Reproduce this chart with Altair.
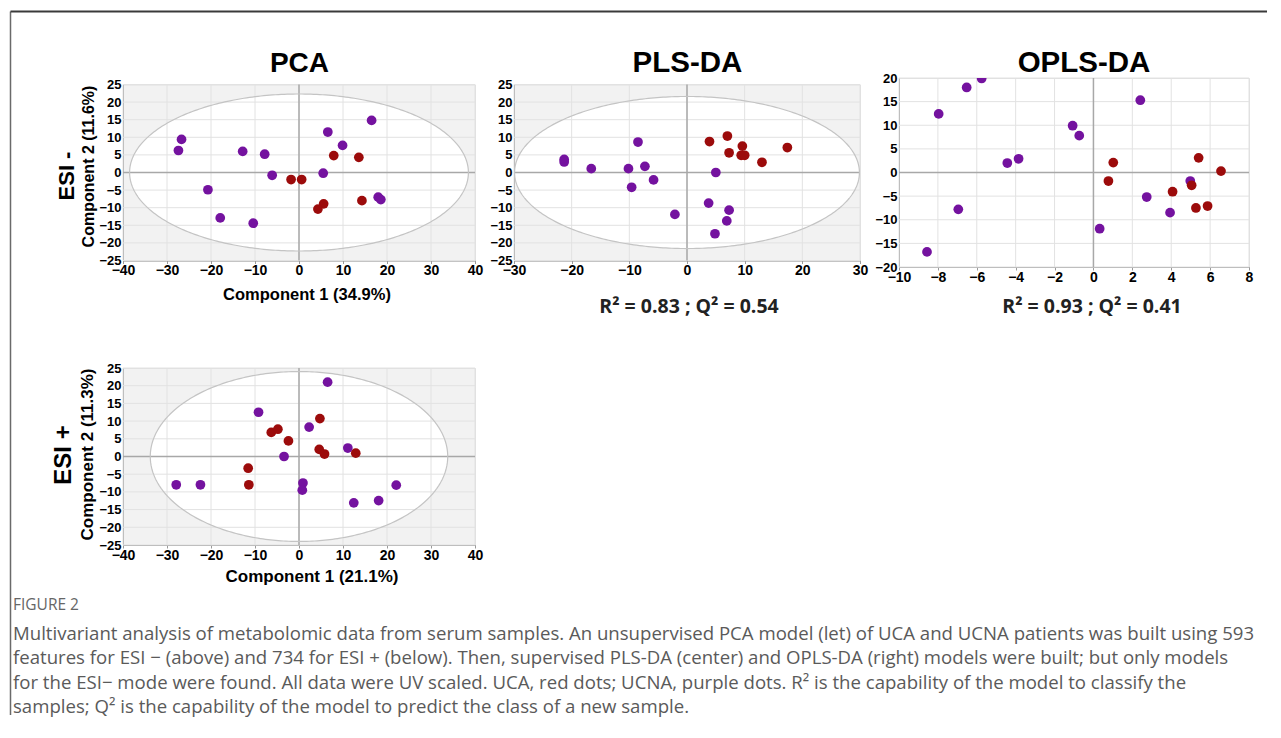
import altair as alt
import pandas as pd

PURPLE = "#74129f"
RED = "#9c0b0b"

# ---------------- data ----------------
# PCA, ESI-
pca_neg_ucna_x = [-26.7, -27.4, -12.8, -7.8, -6.1, -20.7, -17.9, -10.4, 6.55, 9.9, 16.5, 5.5, 18.0, 18.6]
pca_neg_ucna_y = [9.4, 6.25, 6.0, 5.2, -0.8, -4.9, -12.9, -14.4, 11.5, 7.7, 14.8, -0.2, -7.0, -7.7]
pca_neg_uca_x = [-1.8, 0.6, 7.9, 13.6, 14.3, 5.6, 4.3]
pca_neg_uca_y = [-2.0, -2.0, 4.8, 4.3, -8.0, -8.9, -10.4]
pca_neg_ellipse = (38.5, 22.3)

# PLS-DA, ESI-
plsda_ucna_x = [-21.3, -21.3, -16.6, -8.5, -10.15, -7.3, -5.8, -9.6, -2.1, 5.0, 3.75, 7.3, 6.9, 4.85]
plsda_ucna_y = [3.7, 3.0, 1.1, 8.65, 1.1, 1.75, -2.1, -4.2, -11.9, 0.0, -8.7, -10.7, -13.75, -17.4]
plsda_uca_x = [3.9, 7.0, 9.6, 7.3, 9.4, 10.0, 13.0, 17.4]
plsda_uca_y = [8.8, 10.35, 7.5, 5.6, 4.9, 4.9, 2.9, 7.1]
plsda_ellipse = (29.9, 21.6)

# OPLS-DA, ESI-
oplsda_ucna_x = [-8.56, -7.96, -6.52, -5.75, -6.95, -4.43, -3.85, -1.07, -0.73, 0.32, 2.41, 2.74, 3.94, 4.98]
oplsda_ucna_y = [-16.8, 12.4, 18.0, 19.9, -7.8, 2.0, 2.9, 9.9, 7.8, -11.9, 15.3, -5.2, -8.5, -1.8]
oplsda_uca_x = [0.77, 1.02, 4.07, 5.05, 5.41, 6.56, 5.27, 5.87]
oplsda_uca_y = [-1.8, 2.1, -4.06, -2.7, 3.1, 0.3, -7.5, -7.1]

# PCA, ESI+
pca_pos_ucna_x = [-27.9, -22.4, -9.2, -3.4, 2.3, 6.5, 0.9, 0.75, 11.1, 12.45, 18.1, 22.1]
pca_pos_ucna_y = [-8.0, -8.0, 12.5, 0.0, 8.3, 21.0, -7.5, -9.5, 2.4, -13.1, -12.45, -8.1]
pca_pos_uca_x = [-11.55, -11.4, -6.3, -4.8, -2.4, 4.75, 4.6, 5.8, 12.9]
pca_pos_uca_y = [-3.3, -8.0, 6.8, 7.7, 4.4, 10.7, 2.0, 0.7, 0.95]
pca_pos_ellipse = (33.8, 24.0)

# tick values
pca_x_ticks = [-40, -30, -20, -10, 0, 10, 20, 30, 40]
pca_y_ticks = [-25, -20, -15, -10, -5, 0, 5, 10, 15, 20, 25]
plsda_x_ticks = [-30, -20, -10, 0, 10, 20, 30]
plsda_y_ticks = [-25, -20, -15, -10, -5, 0, 5, 10, 15, 20, 25]
oplsda_x_ticks = [-10, -8, -6, -4, -2, 0, 2, 4, 6, 8]
oplsda_y_ticks = [-20, -15, -10, -5, 0, 5, 10, 15, 20]

caption_head = "FIGURE 2"
caption_lines = [
    "Multivariant analysis of metabolomic data from serum samples. An unsupervised PCA model (let) of UCA and UCNA patients was built using 593",
    "features for ESI \u2212 (above) and 734 for ESI + (below). Then, supervised PLS-DA (center) and OPLS-DA (right) models were built; but only models",
    "for the ESI\u2212 mode were found. All data were UV scaled. UCA, red dots; UCNA, purple dots. R\u00b2 is the capability of the model to classify the",
    "samples; Q\u00b2 is the capability of the model to predict the class of a new sample.",
]

FONT = "Liberation Sans"
GRID = "#e2e2e2"


def points_df(ux, uy, rx, ry):
    return pd.DataFrame({
        "x": list(ux) + list(rx),
        "y": list(uy) + list(ry),
        "g": ["UCNA"] * len(ux) + ["UCA"] * len(rx),
    })


def txt(s, x, y, size, weight="bold", angle=0, font=FONT, color="black",
        align="center", baseline="middle", **kw):
    mk = dict(fontSize=size, fontWeight=weight, font=font, color=color,
              align=align, baseline=baseline, **kw)
    if angle:
        mk["angle"] = angle
    return alt.Chart(pd.DataFrame({"t": [s]})).mark_text(**mk).encode(
        text="t:N", x=alt.value(x), y=alt.value(y))


def panel(df, xdom, ydom, xticks, yticks, w, h, ellipse=None, bg="#f2f2f2",
          clip=False, extra=()):
    sx = alt.Scale(domain=xdom, nice=False, zero=False)
    sy = alt.Scale(domain=ydom, nice=False, zero=False)
    ax = alt.Axis(values=xticks, grid=False, title=None, domainColor="#9a9a9a",
                  ticks=True, tickColor="#9a9a9a", tickSize=3, labelPadding=0,
                  labelFont=FONT, labelFontWeight="bold", labelFontSize=14,
                  labelColor="black", labelFlush=False, labelOverlap=False)
    ay = alt.Axis(values=yticks, grid=False, title=None, domainColor="#9a9a9a",
                  ticks=False, labelPadding=2,
                  labelFont=FONT, labelFontWeight="bold", labelFontSize=13,
                  labelColor="black", labelFlush=False, labelOverlap=False)

    def X(f):
        return alt.X(f, type="quantitative", scale=sx, axis=ax)

    def Y(f):
        return alt.Y(f, type="quantitative", scale=sy, axis=ay)

    layers = []
    if ellipse is not None:
        a, b = ellipse
        fill = alt.Chart(alt.sequence(0, 181, 1, as_="t")).transform_calculate(
            ex=f"{a}*cos(datum.t*PI/180)",
            ey=f"{b}*sin(datum.t*PI/180)",
            ey2=f"-{b}*sin(datum.t*PI/180)",
        ).mark_area(color="white").encode(x=X("ex"), y=Y("ey"), y2=alt.Y2("ey2"))
        layers.append(fill)
    layers.append(alt.Chart(pd.DataFrame({"v": xticks})).mark_rule(
        color=GRID, strokeWidth=1).encode(x=X("v")))
    layers.append(alt.Chart(pd.DataFrame({"v": yticks})).mark_rule(
        color=GRID, strokeWidth=1).encode(y=Y("v")))
    zero = pd.DataFrame({"v": [0]})
    layers.append(alt.Chart(zero).mark_rule(color="#a8a8a8", strokeWidth=1.5).encode(x=X("v")))
    layers.append(alt.Chart(zero).mark_rule(color="#a8a8a8", strokeWidth=1.5).encode(y=Y("v")))
    if ellipse is not None:
        a, b = ellipse
        outline = alt.Chart(alt.sequence(0, 361, 1, as_="t")).transform_calculate(
            ex=f"{a}*cos(datum.t*PI/180)",
            ey=f"{b}*sin(datum.t*PI/180)",
        ).mark_line(color="#c4c4c4", strokeWidth=1.2).encode(
            x=X("ex"), y=Y("ey"), order="t:Q")
        layers.append(outline)
    pts = alt.Chart(df).mark_circle(size=95, opacity=1, clip=clip).encode(
        x=X("x"), y=Y("y"),
        color=alt.Color("g:N", scale=alt.Scale(domain=["UCNA", "UCA"], range=[PURPLE, RED]),
                        legend=None))
    layers.append(pts)
    layers.extend(extra)
    return alt.layer(*layers).properties(
        width=w, height=h,
        view=alt.ViewBackground(fill=bg, stroke="#e0e0e0"))


# ---------------- panels ----------------
W1, H1 = 352, 176
p1 = panel(points_df(pca_neg_ucna_x, pca_neg_ucna_y, pca_neg_uca_x, pca_neg_uca_y),
           [-40, 40], [-25, 25], pca_x_ticks, pca_y_ticks, W1, H1, ellipse=pca_neg_ellipse,
           extra=[
               txt("PCA", 176.5, -12.5, 28, baseline="alphabetic"),
               txt("ESI -", -56, 91.5, 22, angle=270),
               txt("Component 2 (11.6%)", -34.5, 82, 16, angle=270),
               txt("Component 1 (34.9%)", 184, 210.5, 16.5),
           ])

W2, H2 = 346, 176
p2 = panel(points_df(plsda_ucna_x, plsda_ucna_y, plsda_uca_x, plsda_uca_y),
           [-30, 30], [-25, 25], plsda_x_ticks, plsda_y_ticks, W2, H2, ellipse=plsda_ellipse,
           extra=[
               txt("PLS-DA", 173.5, -12.5, 29.5, baseline="alphabetic"),
               txt("R\u00b2 = 0.83 ; Q\u00b2 = 0.54", 175, 222.5, 19.5, font="Open Sans",
                   color="#222222"),
           ])

W3, H3 = 350, 189
p3 = panel(points_df(oplsda_ucna_x, oplsda_ucna_y, oplsda_uca_x, oplsda_uca_y),
           [-10, 8], [-20, 20], oplsda_x_ticks, oplsda_y_ticks, W3, H3, ellipse=None,
           bg="white", clip=True,
           extra=[
               txt("OPLS-DA", 185, -6, 29.5, baseline="alphabetic"),
               txt("R\u00b2 = 0.93 ; Q\u00b2 = 0.41", 193, 229, 19.5, font="Open Sans",
                   color="#222222"),
           ])

W4, H4 = 352, 177
border_left = alt.Chart(pd.DataFrame({"t": [0]})).mark_rule(
    color="#6a6a6a", strokeWidth=1.5).encode(
    x=alt.value(-112.5), y=alt.value(-356.5), y2=alt.value(347))
border_top = alt.Chart(pd.DataFrame({"t": [0]})).mark_rule(
    color="#3a3a3a", strokeWidth=2).encode(
    x=alt.value(-112.5), x2=alt.value(1144), y=alt.value(-356.5))

p4 = panel(points_df(pca_pos_ucna_x, pca_pos_ucna_y, pca_pos_uca_x, pca_pos_uca_y),
           [-40, 40], [-25, 25], pca_x_ticks, pca_y_ticks, W4, H4, ellipse=pca_pos_ellipse,
           extra=[
               txt("ESI +", -59.5, 87, 24, angle=270),
               txt("Component 2 (11.3%)", -35.3, 86.5, 17, angle=270),
               txt("Component 1 (21.1%)", 189, 209, 17),
               txt(caption_head, -110, 242, 15.5, weight="normal", font="Open Sans",
                   color="#666666", align="left", baseline="alphabetic"),
               txt("\n".join(caption_lines), -110, 272, 18.6, weight="normal",
                   font="Open Sans", color="#5a5a5a", align="left",
                   baseline="alphabetic", lineBreak="\n", lineHeight=24.4),
               border_left,
               border_top,
           ])

chart = alt.ConcatChart(
    concat=[p1, p2, p3, p4],
    columns=3,
    spacing=alt.RowColnumber(row=101, column=39),
    bounds="flush",
    center=True,
    padding={"left": 1, "top": 2, "right": 2, "bottom": 2},
    background="white",
)

chart.save("out.html", embed_options={"renderer": "svg", "actions": False})
